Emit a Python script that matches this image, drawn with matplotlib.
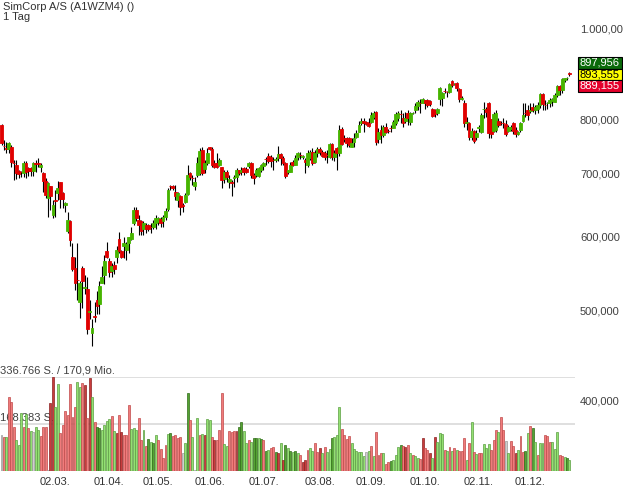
import numpy as np
import pandas as pd
import matplotlib
matplotlib.use('Agg')
import matplotlib.pyplot as plt
from matplotlib.patches import Rectangle
from matplotlib.ticker import NullLocator

plt.rcParams['font.family'] = ['Liberation Sans', 'DejaVu Sans']

# trading days (Good Friday / Easter Monday closed)
dates = pd.bdate_range('2020-01-30', '2020-12-23')
dates = dates.drop(pd.to_datetime(['2020-04-10', '2020-04-13']))

# daily candles, prices in thousands
opens = [789, 750, 745, 744, 747, 719, 715, 704, 703, 701, 718, 710, 710, 704, 719, 719, 711, 701, 687, 659,
         679, 632, 655, 667, 686, 667, 647, 608, 623, 570, 555, 539, 510, 554, 528, 527, 498, 473, 493, 512,
         507, 534, 545, 579, 564, 550, 559, 570, 596, 578, 585, 580, 590, 596, 619, 640, 625, 622, 610, 617,
         616, 614, 614, 620, 621, 626, 623, 629, 642, 679, 679, 669, 656, 662, 647, 653, 666, 701, 693, 679,
         698, 701, 742, 708, 718, 747, 744, 718, 718, 715, 711, 691, 703, 686, 685, 692, 694, 706, 703, 710,
         708, 713, 718, 698, 698, 696, 706, 713, 726, 731, 729, 724, 724, 727, 735, 727, 718, 703, 703, 720,
         715, 729, 733, 729, 724, 715, 727, 738, 720, 736, 744, 738, 736, 733, 729, 753, 729, 745, 736, 781,
         764, 764, 764, 747, 756, 766, 775, 793, 797, 795, 793, 795, 805, 815, 762, 779, 770, 785, 778, 784,
         783, 793, 803, 811, 803, 797, 813, 795, 812, 818, 827, 833, 833, 839, 839, 837, 821, 818, 813, 841,
         843, 858, 856, 856, 879, 872, 875, 862, 842, 833, 793, 793, 766, 777, 766, 784, 775, 820, 821, 833,
         801, 777, 779, 797, 793, 793, 791, 777, 781, 793, 779, 772, 779, 797, 813, 818, 817, 825, 818, 821,
         829, 851, 829, 832, 833, 837, 835, 849, 868, 860, 881, 885, 896]
highs = [791, 760, 756, 757, 751, 724, 724, 706, 704, 722, 722, 711, 712, 720, 724, 727, 718, 703, 692, 686,
         679, 656, 672, 687, 686, 669, 653, 637, 625, 590, 570, 590, 537, 557, 545, 542, 513, 489, 510, 524,
         537, 557, 573, 592, 568, 562, 564, 585, 606, 580, 598, 592, 599, 613, 645, 645, 632, 625, 622, 620,
         618, 620, 625, 632, 629, 629, 632, 643, 676, 681, 681, 681, 669, 664, 651, 667, 715, 703, 698, 694,
         729, 745, 747, 724, 745, 747, 747, 724, 736, 727, 711, 706, 706, 698, 689, 698, 710, 706, 711, 711,
         711, 720, 720, 701, 710, 711, 717, 720, 729, 736, 733, 729, 729, 749, 736, 731, 720, 706, 720, 724,
         733, 738, 738, 733, 727, 742, 742, 745, 742, 747, 747, 742, 740, 742, 755, 755, 742, 747, 789, 785,
         770, 766, 766, 764, 774, 779, 797, 803, 803, 797, 803, 815, 817, 817, 783, 789, 789, 793, 781, 789,
         799, 815, 817, 818, 813, 815, 818, 815, 815, 833, 839, 841, 843, 839, 841, 839, 823, 821, 823, 866,
         856, 864, 858, 875, 881, 875, 877, 864, 847, 839, 805, 795, 783, 779, 779, 789, 813, 835, 825, 835,
         801, 815, 818, 803, 797, 803, 799, 789, 789, 795, 785, 777, 795, 833, 833, 829, 833, 833, 829, 835,
         853, 853, 839, 835, 843, 843, 854, 871, 871, 886, 886, 888, 897.956]
lows = [751, 742, 736, 736, 711, 689, 691, 692, 694, 694, 692, 696, 696, 696, 703, 711, 703, 669, 659, 629,
        640, 628, 629, 656, 643, 643, 636, 605, 585, 550, 526, 513, 491, 503, 520, 471, 489, 458, 485, 495,
        495, 534, 533, 568, 542, 543, 546, 562, 576, 568, 569, 566, 576, 595, 616, 622, 602, 602, 602, 605,
        607, 605, 610, 610, 617, 613, 613, 625, 639, 672, 672, 656, 645, 632, 637, 651, 664, 689, 681, 672,
        694, 698, 698, 701, 715, 742, 711, 710, 710, 713, 676, 684, 686, 676, 663, 677, 686, 698, 698, 698,
        701, 710, 692, 682, 694, 694, 703, 706, 715, 718, 711, 706, 720, 722, 715, 715, 692, 699, 703, 713,
        715, 724, 725, 725, 701, 711, 724, 715, 718, 729, 733, 729, 724, 718, 727, 724, 722, 706, 731, 751,
        757, 747, 747, 747, 747, 764, 775, 789, 775, 789, 785, 793, 801, 751, 755, 755, 766, 774, 774, 775,
        783, 789, 797, 793, 785, 793, 789, 789, 810, 812, 818, 812, 833, 821, 825, 827, 805, 805, 809, 829,
        827, 854, 845, 854, 866, 870, 858, 835, 838, 785, 779, 760, 760, 755, 760, 775, 774, 803, 805, 764,
        764, 775, 775, 785, 789, 783, 768, 775, 777, 772, 766, 770, 775, 795, 805, 799, 813, 815, 811, 813,
        822, 818, 818, 821, 825, 827, 835, 845, 849, 854, 877, 881, 889.155]
closes = [755, 749, 744, 755, 720, 718, 701, 699, 702, 718, 703, 704, 705, 718, 717, 717, 715, 687, 664, 684,
          663, 647, 654, 676, 658, 658, 651, 625, 595, 553, 535, 538, 535, 537, 529, 477, 499, 478, 492, 505,
          531, 542, 564, 570, 549, 557, 553, 580, 578, 570, 590, 588, 598, 605, 640, 628, 617, 608, 620, 610,
          610, 613, 620, 628, 628, 620, 629, 639, 672, 678, 676, 662, 667, 645, 646, 664, 698, 694, 692, 686,
          718, 740, 701, 718, 736, 744, 715, 711, 711, 724, 689, 703, 694, 691, 684, 694, 706, 701, 706, 703,
          703, 718, 698, 692, 706, 710, 715, 718, 725, 722, 722, 723, 726, 735, 727, 718, 696, 706, 715, 715,
          727, 736, 732, 730, 720, 736, 738, 718, 736, 744, 738, 731, 729, 732, 753, 729, 736, 736, 779, 753,
          763, 755, 751, 755, 764, 774, 789, 797, 793, 791, 787, 809, 813, 757, 775, 770, 785, 775, 777, 783,
          795, 811, 813, 810, 793, 803, 803, 813, 813, 827, 835, 832, 841, 833, 829, 831, 806, 811, 821, 864,
          854, 857, 855, 873, 871, 873, 864, 841, 843, 793, 795, 766, 777, 758, 774, 785, 809, 821, 815, 774,
          772, 811, 813, 789, 792, 792, 772, 785, 785, 777, 772, 775, 793, 809, 812, 809, 818, 818, 825, 829,
          851, 831, 828, 833, 839, 841, 849, 868, 860, 884, 886, 886, 893.555]

# daily volume in thousand shares; colour code: g/G green light/dark, r/R red light/dark, n grey
volumes = [129, 121, 123, 265, 247, 159, 111, 93, 207, 159, 205, 153, 145, 141, 159, 147, 126, 159, 159, 4,
           243, 336.766, 231, 313, 138, 165, 217, 201, 313, 195, 231, 321, 301, 315, 309, 189, 333, 265, 177, 159,
           153, 147, 165, 180, 186, 198, 145, 138, 201, 141, 129, 129, 237, 151, 153, 147, 192, 111, 147, 90,
           114, 105, 102, 129, 111, 78, 46, 93, 133, 138, 126, 129, 117, 123, 66, 102, 279, 183, 121, 4,
           189, 129, 133, 129, 186, 183, 123, 111, 111, 147, 279, 96, 90, 145, 140, 145, 145, 159, 177, 144,
           99, 111, 105, 117, 120, 119, 115, 111, 73, 75, 81, 85, 69, 66, 102, 40, 93, 81, 73, 69,
           73, 63, 58, 34, 40, 75, 81, 73, 102, 69, 81, 63, 85, 69, 78, 117, 123, 129, 231, 150,
           129, 114, 126, 99, 78, 73, 69, 69, 54, 69, 73, 90, 54, 141, 58, 63, 66, 25, 34, 37,
           40, 58, 85, 93, 90, 85, 93, 63, 58, 54, 46, 42, 117, 81, 75, 63, 46, 121, 105, 138,
           133, 75, 73, 85, 73, 81, 75, 73, 73, 117, 40, 102, 177, 69, 61, 66, 66, 97, 81, 97,
           75, 111, 147, 141, 195, 147, 109, 63, 109, 90, 63, 75, 126, 69, 73, 135, 162, 153, 105, 58,
           99, 99, 129, 126, 105, 105, 78, 141, 58, 54, 49, 46, 40]
vol_colors = ('nrgrrrgggr' 'grgnggrrrn' 'RRggrrrrrr' 'rggrRrRgrG' 'GggggrgRrR'
              'rrrgggrrgr' 'GgGgrrrrgG' 'rrrrngGrgn' 'grgRggrRrr' 'rggrrrRGGg'
              'grgGGgGrGg' 'rrGRgRGgGg' 'GgrRRrggrr' 'RgrggGgggr' 'rrrggggggn'
              'grgrrrgrrG' 'gggGrRrgrg' 'grRrrRgRgg' 'grgrgrgrrr' 'grgrgrrggg'
              'rrrgrrngrr' 'RgrrGgrGgr' 'ggrrrgggrr' 'gGg')

price_ticks = [400000, 500000, 600000, 700000, 800000, 1000000]
price_labels = ['400,000', '500,000', '600,000', '700,000', '800,000', '1.000,000']

o = np.array(opens) * 1000
h = np.array(highs) * 1000
l = np.array(lows) * 1000
c = np.array(closes) * 1000
v = np.array(volumes) * 1000
x = np.arange(len(dates))
vmax = 336766

W, H = 623, 497
fig = plt.figure(figsize=(W / 100, H / 100), dpi=100)
fig.patch.set_facecolor('white')

ax = fig.add_axes([0, 26 / H, 575 / W, 471 / H])
ax.set_yscale('log')
ax.set_ylim(336424, 1073264)
ax.set_xlim(-0.613, 234.27)

up = c >= o
col = np.where(up, '#46b400', '#e00000')
ax.vlines(x, l, h, color='black', lw=0.8, zorder=1)
bottom = np.minimum(o, c)
top = np.maximum(o, c)
ax.bar(x, top - bottom, bottom=bottom, width=1.15, color=col, edgecolor=col, linewidth=0.6, zorder=2)

for s in ax.spines.values():
    s.set_visible(False)
ax.set_xticks([])
ax.yaxis.tick_right()
ax.yaxis.set_minor_locator(NullLocator())
ax.set_yticks(price_ticks)
ax.set_yticklabels(price_labels)
ax.tick_params(axis='y', length=0, pad=3.6, labelsize=8, labelcolor='#404040')
for t in ax.get_yticklabels():
    t.set_horizontalalignment('left')

# volume panel
axv = fig.add_axes([0, 26 / H, 575 / W, 93.7 / H])
axv.set_zorder(ax.get_zorder() + 1)
axv.patch.set_visible(False)
axv.set_xlim(ax.get_xlim())
axv.set_ylim(0, vmax)
for s in axv.spines.values():
    s.set_visible(False)
axv.set_yticks([])
axv.axhline(vmax, color='#dcdcdc', lw=1.3, zorder=0)
axv.axhline(vmax / 2, color='#dcdcdc', lw=1.3, zorder=0)
axv.text(0, vmax * 1.015, '336.766 S. / 170,9 Mio.', fontsize=8, color='#404040', va='bottom', ha='left',
         transform=axv.get_yaxis_transform(), zorder=0)
axv.text(0, vmax / 2 * 1.03, '168.383 S.', fontsize=8, color='#404040', va='bottom', ha='left',
         transform=axv.get_yaxis_transform(), zorder=0)

face = {'g': '#93e072', 'G': '#54a332', 'r': '#f07b7b', 'R': '#c83c3c', 'n': '#cfcfcf'}
edge = {'g': '#5c9e42', 'G': '#2f6b18', 'r': '#c04a4a', 'R': '#8a2222', 'n': '#9a9a9a'}
axv.bar(x, v, width=0.8, color=[face[k] for k in vol_colors], edgecolor=[edge[k] for k in vol_colors],
        linewidth=0.5, zorder=2)

# month labels on first trading day of each month from March
months = pd.Series(x, index=dates)
firsts = months.groupby([dates.year, dates.month]).first()
firsts = firsts[firsts.index.get_level_values(1) >= 3]
axv.set_xticks(firsts.values)
axv.set_xticklabels([dates[i].strftime('%d.%m.') for i in firsts.values])
axv.tick_params(axis='x', length=0, pad=4.5, labelsize=8, labelcolor='#333333')

# last price boxes: high / last / low, stacked around the last close
ylast = ax.transData.transform((0, c[-1]))[1]
bh = 11.5
box_labels = ['897,956', '893,555', '889,155']
box_faces = ['#0a6a0a', '#ffff00', '#e4002b']
box_text = ['white', 'black', 'white']
box_y = [ylast + bh, ylast, ylast - bh]
for lab, fc, tc, yc in zip(box_labels, box_faces, box_text, box_y):
    fig.add_artist(Rectangle((578 / W, (yc - bh / 2) / H), 44 / W, bh / H, transform=fig.transFigure,
                             facecolor=fc, edgecolor='black', linewidth=0.8))
    fig.text(600 / W, yc / H, lab, color=tc, fontsize=8, ha='center', va='center')

fig.text(3 / W, 1 - 2 / H, 'SimCorp A/S (A1WZM4) ()', fontsize=8, color='#333333', va='top', ha='left')
fig.text(3 / W, 1 - 12 / H, '1 Tag', fontsize=8, color='#333333', va='top', ha='left')

fig.savefig('out.png', dpi=100)
